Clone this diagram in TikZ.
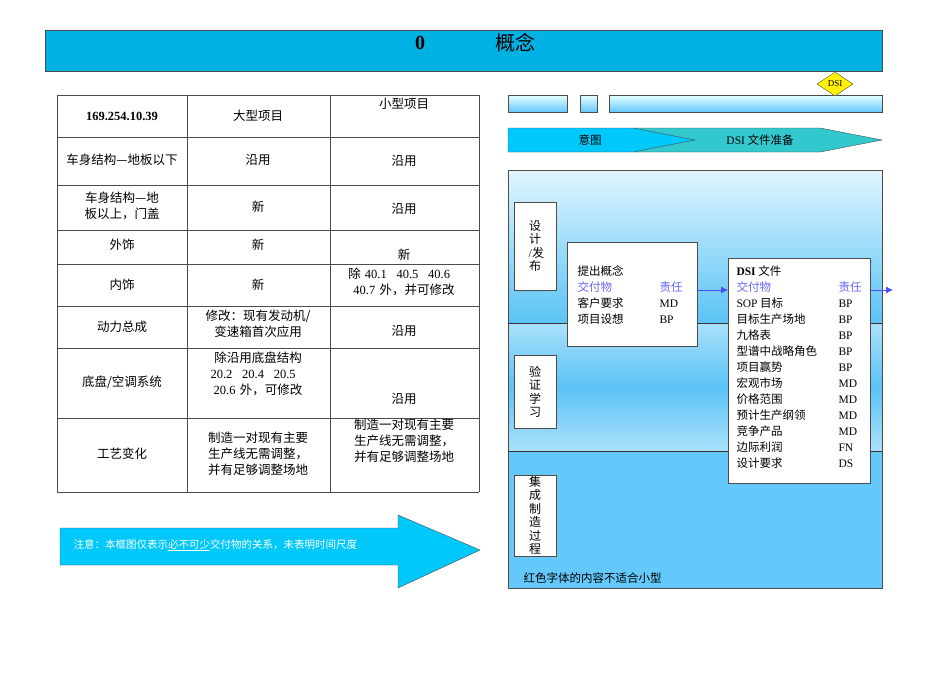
\documentclass[tikz,border=0pt]{standalone}
\usepackage{fontspec}
\setmainfont{Noto Sans CJK SC}
\newfontfamily\lat{Liberation Serif}
\XeTeXlinebreaklocale "zh"
\XeTeXlinebreakskip=0pt
\usetikzlibrary{shapes.geometric,arrows.meta}
\definecolor{titlec}{RGB}{0,178,228}
\definecolor{chev1}{RGB}{0,200,250}
\definecolor{chev2}{RGB}{50,200,205}
\definecolor{panlow}{RGB}{100,200,250}
\definecolor{panmid}{RGB}{90,195,245}
\definecolor{panhi}{RGB}{225,245,255}
\begin{document}
\begin{tikzpicture}[x=1pt,y=-1pt,
  tb/.style={font=\fontsize{12.5}{16}\selectfont,align=center,text width=#1},
  lbl/.style={draw=black!70,fill=white,font=\fontsize{12}{13.5}\selectfont,align=center,text width=13pt,inner sep=1pt},
  bar/.style={draw=black!70,top color=cyan!10,bottom color=panlow},
  small/.style={font=\fontsize{11.5}{16}\selectfont,anchor=north west,align=left}]
\useasboundingbox (0,0) rectangle (950,672);
% title
\node[draw=black!70,fill=titlec,minimum width=837pt,minimum height=41pt,anchor=north west] (title) at (45,30) {};
\node[font=\fontsize{20}{20}\selectfont\bfseries] at (420,43) {\lat 0};
\node[font=\fontsize{20}{20}\selectfont] at (515,43) {概念};
% table
\foreach \x in {57,187,330,479} \draw[black!70] (\x,95) -- (\x,492);
\foreach \y in {95,137,185,230,264,306,348,418,492} \draw[black!70] (57,\y) -- (479,\y);
\node[font=\fontsize{12.5}{13}\selectfont\bfseries] at (122,116) {\lat 169.254.10.39};
\node[tb=125pt] at (258,116) {大型项目};
\node[tb=125pt] at (404,104) {小型项目};
\node[tb=115pt] at (122,160) {车身结构—地板以下};
\node[tb=125pt] at (258,160) {沿用};
\node[tb=125pt] at (404,161) {沿用};
\node[tb=115pt] at (122,206) {车身结构—地板以上，门盖};
\node[tb=125pt] at (258,207) {新};
\node[tb=125pt] at (404,209) {沿用};
\node[tb=115pt] at (122,245) {外饰};
\node[tb=125pt] at (258,245) {新};
\node[tb=125pt] at (404,255) {新};
\node[tb=115pt] at (122,285) {内饰};
\node[tb=125pt] at (258,285) {新};
\node[tb=140pt] at (404,282) {除 {\lat 40.1，40.5，40.6，40.7} 外，并可修改};
\node[tb=115pt] at (122,327) {动力总成};
\node[tb=125pt] at (258,324) {修改：现有发动机/变速箱首次应用};
\node[tb=125pt] at (404,331) {沿用};
\node[tb=115pt] at (122,382) {底盘/空调系统};
\node[tb=130pt] at (258,374) {除沿用底盘结构 {\lat 20.2，20.4，20.5，20.6} 外，可修改};
\node[tb=125pt] at (404,399) {沿用};
\node[tb=115pt] at (122,454) {工艺变化};
\node[tb=125pt] at (258,454) {制造一对现有主要生产线无需调整，并有足够调整场地};
\node[tb=140pt] at (404,441) {制造一对现有主要生产线无需调整，并有足够调整场地};
% note arrow
\draw[black!70,fill=chev1] (60,528) -- (398,528) -- (398,515) -- (480,550) -- (398,588) -- (398,565) -- (60,565) -- cycle;
\node[anchor=west,font=\fontsize{10.5}{11}\selectfont,text=white] (note) at (70,545) {注意：本框图仅表示\underline{必不可少}交付物的关系，未表明时间尺度};
% timeline bars
\draw[bar] (508,95) rectangle (567,112);
\draw[bar] (580,95) rectangle (597,112);
\draw[bar] (609,95) rectangle (882,112);
\node[diamond,draw=black!70,fill=yellow,minimum width=36pt,minimum height=24pt,inner sep=0pt,font=\fontsize{9}{9}\selectfont\lat] (dsi) at (835,84) {DSI};
% chevrons
\draw[black!70,fill=chev2] (633,128) -- (820,128) -- (882,140) -- (820,152) -- (633,152) -- cycle;
\draw[black!70,fill=chev1] (508,128) -- (633,128) -- (695,140) -- (633,152) -- (508,152) -- cycle;
\node[font=\fontsize{11.5}{12}\selectfont] at (590,140) {意图};
\node[font=\fontsize{11.5}{12}\selectfont] at (760,140) {{\lat DSI} 文件准备};
% panel
\shade[top color=panhi,bottom color=panmid] (508,170) rectangle (882,323);
\shade[top color=panhi!60!panmid,bottom color=panhi!60!panmid,middle color=panmid] (508,323) rectangle (882,451);
\fill[panlow] (508,451) rectangle (882,588);
\draw[black!70] (508,170) rectangle (882,588);
\draw[black!80] (508,323) -- (882,323) (508,451) -- (882,451);
\node[lbl,minimum height=88pt,anchor=north west,minimum width=42pt] (l1) at (514,202) {设\\计\\{\lat /}发\\布};
\node[lbl,minimum height=73pt,anchor=north west,minimum width=42pt] (l2) at (514,355) {验\\证\\学\\习};
\node[lbl,minimum height=80pt,anchor=north west,minimum width=42pt] (l3) at (514,475) {集\\成\\制\\造\\过\\程};
\node[anchor=west,font=\fontsize{11.5}{12}\selectfont] at (520,578) {红色字体的内容不适合小型};
% box 1
\node[draw=black!70,fill=white,minimum width=130pt,minimum height=104pt,anchor=north west] (b1) at (567,242) {};
\node[small] at (574,262) {提出概念\\\textcolor{blue!60}{交付物}\\客户要求\\项目设想};
\node[small] at (656,278) {\textcolor{blue!60}{责任}\\\lat MD\\\lat BP};
% box 2
\node[draw=black!70,fill=white,minimum width=142pt,minimum height=225pt,anchor=north west] (b2) at (728,258) {};
\node[small] at (733,262) {{\lat\bfseries DSI} 文件\\\textcolor{blue!60}{交付物}\\{\lat SOP} 目标\\目标生产场地\\九格表\\型谱中战略角色\\项目赢势\\宏观市场\\价格范围\\预计生产纲领\\竞争产品\\边际利润\\设计要求};
\node[small,font=\fontsize{11.5}{16}\selectfont\lat] at (835,278) {\textcolor{blue!60}{\fontspec{Noto Sans CJK SC}责任}\\BP\\BP\\BP\\BP\\BP\\MD\\MD\\MD\\MD\\FN\\DS};
\coordinate (out) at (893,290);
\draw[blue!70,thick,-{Latex[length=7pt,width=7pt]}] (b1.east |- 0,290) -- (b2.west |- 0,290);
\draw[blue!70,thick,-{Latex[length=7pt,width=7pt]}] (b2.east |- 0,290) -- (out);
\end{tikzpicture}
\end{document}
